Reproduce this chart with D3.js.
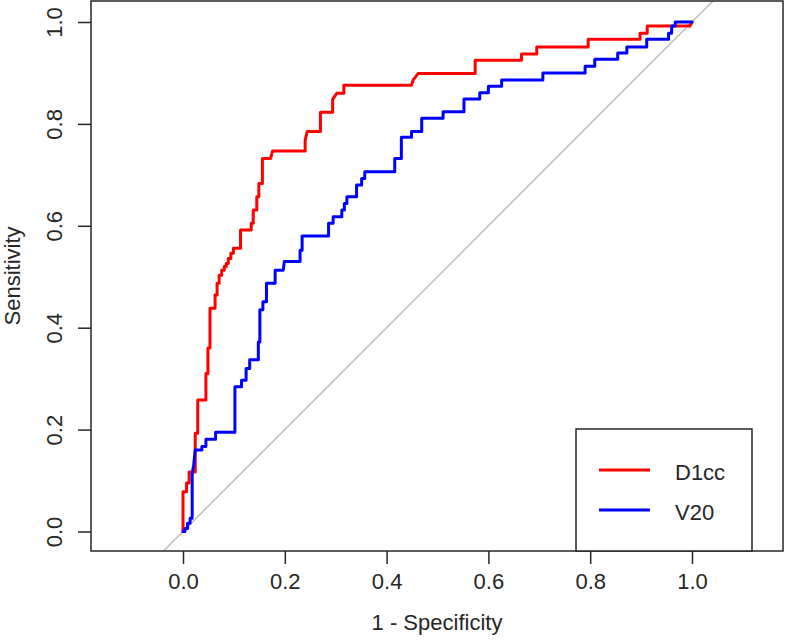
<!DOCTYPE html>
<html lang="en">
  <head>
    <meta charset="UTF-8" />
    <title>ROC curves D1cc vs V20</title>
    <script src="https://d3js.org/d3.v7.min.js"></script>
    <style>
      body {
        margin: 0;
        padding: 0;
        background-color: #ffffff;
      }
      svg text {
        font-family: "Liberation Sans", Arial, sans-serif;
        fill: #262626;
      }
    </style>
  </head>
  <body>
    <div id="chart"></div>

    <script>
      // -----------------------------
      // 1. Data
      // -----------------------------

      // D1cc curve: 1 - specificity / sensitivity corner points
      const d1ccFpr = [
        0, 0, 0.007, 0.007, 0.012, 0.012, 0.024, 0.024, 0.029, 0.029, 0.045,
        0.045, 0.049, 0.049, 0.053, 0.053, 0.063, 0.063, 0.067, 0.067, 0.071,
        0.071, 0.076, 0.076, 0.081, 0.081, 0.085, 0.085, 0.089, 0.089, 0.094,
        0.094, 0.099, 0.099, 0.113, 0.113, 0.134, 0.134, 0.138, 0.138, 0.145,
        0.145, 0.149, 0.149, 0.156, 0.156, 0.172, 0.176, 0.24, 0.24, 0.244,
        0.27, 0.27, 0.294, 0.294, 0.302, 0.316, 0.316, 0.449, 0.452, 0.462,
        0.574, 0.574, 0.665, 0.665, 0.695, 0.695, 0.796, 0.796, 0.898, 0.898,
        0.912, 0.912, 0.996, 1,
      ];
      const d1ccSens = [
        0, 0.078, 0.078, 0.095, 0.095, 0.117, 0.117, 0.193, 0.193, 0.258,
        0.258, 0.31, 0.31, 0.36, 0.36, 0.438, 0.438, 0.464, 0.464, 0.487,
        0.487, 0.503, 0.503, 0.513, 0.513, 0.52, 0.52, 0.526, 0.526, 0.536,
        0.536, 0.546, 0.546, 0.556, 0.556, 0.592, 0.592, 0.605, 0.605, 0.631,
        0.631, 0.657, 0.657, 0.683, 0.683, 0.732, 0.732, 0.747, 0.747, 0.768,
        0.785, 0.785, 0.823, 0.823, 0.848, 0.86, 0.86, 0.876, 0.876, 0.886,
        0.899, 0.899, 0.925, 0.925, 0.937, 0.937, 0.951, 0.951, 0.966, 0.966,
        0.978, 0.978, 0.992, 0.992, 1,
      ];

      // V20 curve
      const v20Fpr = [
        0, 0.004, 0.004, 0.009, 0.009, 0.014, 0.014, 0.018, 0.018, 0.021,
        0.024, 0.037, 0.037, 0.045, 0.045, 0.064, 0.064, 0.102, 0.102, 0.115,
        0.115, 0.124, 0.124, 0.131, 0.131, 0.148, 0.148, 0.151, 0.151, 0.157,
        0.157, 0.164, 0.164, 0.181, 0.181, 0.197, 0.199, 0.23, 0.23, 0.234,
        0.234, 0.286, 0.286, 0.295, 0.295, 0.312, 0.312, 0.317, 0.317, 0.322,
        0.322, 0.341, 0.341, 0.351, 0.351, 0.357, 0.357, 0.416, 0.416, 0.429,
        0.429, 0.449, 0.449, 0.469, 0.469, 0.511, 0.511, 0.552, 0.552, 0.583,
        0.583, 0.6, 0.6, 0.626, 0.626, 0.707, 0.707, 0.79, 0.79, 0.809, 0.809,
        0.854, 0.854, 0.872, 0.872, 0.911, 0.911, 0.954, 0.954, 0.96, 0.96,
        0.967, 0.967, 1,
      ];
      const v20Sens = [
        0, 0, 0.006, 0.006, 0.016, 0.016, 0.026, 0.026, 0.114, 0.13, 0.16,
        0.16, 0.167, 0.167, 0.181, 0.181, 0.195, 0.195, 0.284, 0.284, 0.297,
        0.297, 0.32, 0.32, 0.337, 0.337, 0.372, 0.372, 0.435, 0.435, 0.451,
        0.451, 0.487, 0.487, 0.513, 0.513, 0.53, 0.53, 0.552, 0.552, 0.58,
        0.58, 0.605, 0.605, 0.618, 0.618, 0.631, 0.631, 0.644, 0.644, 0.657,
        0.657, 0.68, 0.68, 0.693, 0.693, 0.706, 0.706, 0.732, 0.732, 0.774,
        0.774, 0.785, 0.785, 0.811, 0.811, 0.824, 0.824, 0.849, 0.849, 0.861,
        0.861, 0.874, 0.874, 0.886, 0.886, 0.9, 0.9, 0.913, 0.913, 0.927,
        0.927, 0.939, 0.939, 0.951, 0.951, 0.966, 0.966, 0.978, 0.978, 0.992,
        0.992, 1, 1,
      ];

      const tickValues = [0, 0.2, 0.4, 0.6, 0.8, 1.0];
      const seriesNames = ["D1cc", "V20"];
      const seriesColors = ["#ff0000", "#0000ff"];

      // -----------------------------
      // 2. SVG, plot box and scales
      // -----------------------------
      const width = 787;
      const height = 643;
      const box = { left: 91, right: 783, top: 1, bottom: 551 };

      const svg = d3
        .select("#chart")
        .append("svg")
        .attr("width", width)
        .attr("height", height);

      // asp = 1 : same pixels per unit on both axes
      const x = d3.scaleLinear().domain([0, 1]).range([183, 692]);
      const y = d3.scaleLinear().domain([0, 1]).range([531.5, 22]);

      svg
        .append("clipPath")
        .attr("id", "plot-clip")
        .append("rect")
        .attr("x", box.left)
        .attr("y", box.top)
        .attr("width", box.right - box.left)
        .attr("height", box.bottom - box.top);

      const plot = svg.append("g").attr("clip-path", "url(#plot-clip)");

      // reference diagonal (chance line)
      plot
        .append("line")
        .attr("x1", x(-0.2))
        .attr("y1", y(-0.2))
        .attr("x2", x(1.2))
        .attr("y2", y(1.2))
        .attr("stroke", "#bebebe")
        .attr("stroke-width", 1.5);

      // -----------------------------
      // 3. ROC curves
      // -----------------------------
      const line = d3
        .line()
        .x((d) => x(d[0]))
        .y((d) => y(d[1]));

      const curves = [
        d3.zip(d1ccFpr, d1ccSens),
        d3.zip(v20Fpr, v20Sens),
      ];

      curves.forEach((pts, i) => {
        plot
          .append("path")
          .datum(pts)
          .attr("d", line)
          .attr("fill", "none")
          .attr("stroke", seriesColors[i])
          .attr("stroke-width", 3)
          .attr("stroke-linejoin", "round")
          .attr("stroke-linecap", "round");
      });

      // -----------------------------
      // 4. Axes and box
      // -----------------------------
      const xAxis = svg
        .append("g")
        .attr("transform", `translate(0,${box.bottom})`)
        .call(
          d3
            .axisBottom(x)
            .tickValues(tickValues)
            .tickSize(13)
            .tickPadding(0)
            .tickFormat(d3.format(".1f"))
        );
      xAxis.select(".domain").remove();
      xAxis.selectAll("line").attr("stroke", "#262626").attr("stroke-width", 1.5);
      xAxis
        .selectAll("text")
        .attr("y", 38)
        .attr("dy", null)
        .style("font-size", "22px")
        .style("font-family", "Liberation Sans, Arial, sans-serif")
        .attr("fill", "#262626");

      const yAxis = svg
        .append("g")
        .attr("transform", `translate(${box.left},0)`)
        .call(
          d3
            .axisLeft(y)
            .tickValues(tickValues)
            .tickSize(13)
            .tickFormat(d3.format(".1f"))
        );
      yAxis.select(".domain").remove();
      yAxis.selectAll("line").attr("stroke", "#262626").attr("stroke-width", 1.5);
      yAxis
        .selectAll("text")
        .attr("x", null)
        .attr("dy", null)
        .attr("text-anchor", "middle")
        .attr("transform", "translate(-29.5,0) rotate(-90)")
        .style("font-size", "22px")
        .style("font-family", "Liberation Sans, Arial, sans-serif")
        .attr("fill", "#262626");

      svg
        .append("rect")
        .attr("x", box.left)
        .attr("y", box.top)
        .attr("width", box.right - box.left)
        .attr("height", box.bottom - box.top)
        .attr("fill", "none")
        .attr("stroke", "#262626")
        .attr("stroke-width", 1.5);

      // axis titles
      svg
        .append("text")
        .attr("x", (box.left + box.right) / 2)
        .attr("y", 630)
        .attr("text-anchor", "middle")
        .style("font-size", "22px")
        .text("1 - Specificity");

      svg
        .append("text")
        .attr("transform", `translate(20,${(box.top + box.bottom) / 2}) rotate(-90)`)
        .attr("text-anchor", "middle")
        .style("font-size", "22px")
        .text("Sensitivity");

      // -----------------------------
      // 5. Legend
      // -----------------------------
      const legend = svg.append("g");
      legend
        .append("rect")
        .attr("x", 576)
        .attr("y", 429)
        .attr("width", 176)
        .attr("height", box.bottom - 429)
        .attr("fill", "#ffffff")
        .attr("stroke", "#262626")
        .attr("stroke-width", 1.5);

      seriesNames.forEach((name, i) => {
        const ly = 470 + i * 40;
        legend
          .append("line")
          .attr("x1", 599)
          .attr("x2", 650)
          .attr("y1", ly)
          .attr("y2", ly)
          .attr("stroke", seriesColors[i])
          .attr("stroke-width", 3);
        legend
          .append("text")
          .attr("x", 675)
          .attr("y", ly + 10)
          .style("font-size", "22px")
          .text(name);
      });
    </script>
  </body>
</html>
